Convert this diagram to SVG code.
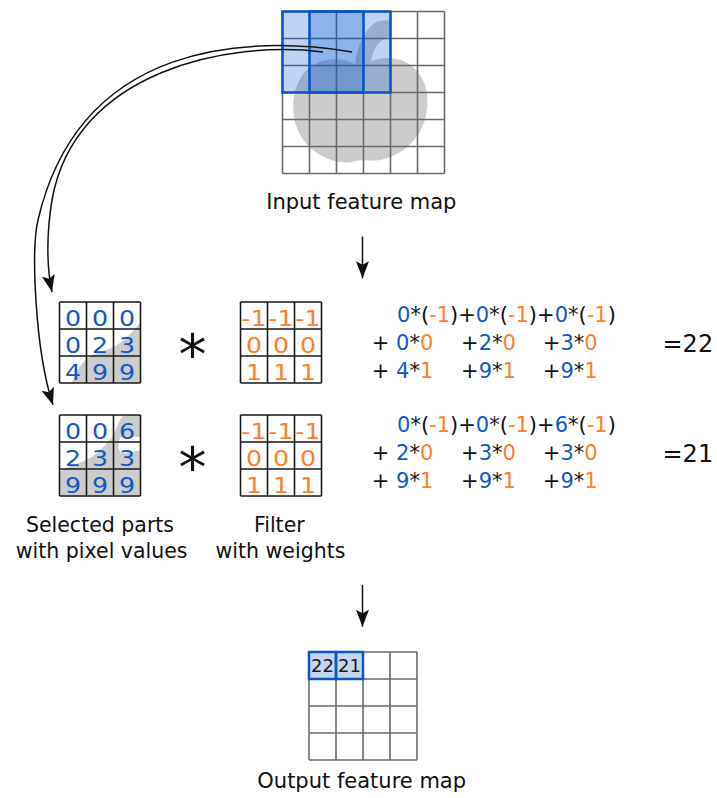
<svg xmlns="http://www.w3.org/2000/svg" xmlns:xlink="http://www.w3.org/1999/xlink" width="717" height="798" viewBox="0 0 717 798">
<style>
text{font-family:"DejaVu Sans","Liberation Sans",sans-serif}
.lbl{font-size:20.5px;fill:#111;text-anchor:middle}
.big{font-size:21px;fill:#111;text-anchor:middle}
.gridG{fill:none;stroke:#6a6a6a;stroke-width:1.6}
.gridK{fill:none;stroke:#1a1a1a;stroke-width:1.6}
.win{fill:#0055d4;fill-opacity:0.25;stroke:#0a55c8;stroke-width:2.5}
.px{font-size:21.5px;fill:#1158c7;text-anchor:middle}
.w{font-size:21.5px;fill:#ff7f2a;text-anchor:middle}
.eq{font-size:21px;fill:#111}
.b{fill:#1158c7}
.o{fill:#ff7f2a}
.res{font-size:24px;fill:#111}
.op{font-size:56px;fill:#111;text-anchor:middle}
.conn{fill:none;stroke:#111;stroke-width:1.5}
.apple{fill:#cccccc}
</style>
<defs>
<marker id="ah" markerUnits="userSpaceOnUse" markerWidth="20" markerHeight="16" viewBox="-18 -8 20 16" refX="0" refY="0" orient="auto">
<path d="M0,0 L-17,-6.5 L-13.5,0 L-17,6.5 Z" fill="#111"/>
</marker>
<path id="apple" d="M355,64 C358,45 365,28 378,21 L391,20 L391,36 C382,38 373,46 371,62 C381,56 400,56 412,66 C424,76 429,92 427,108 C425,135 405,155 380,160 C368,162 362,158 352,162 C330,165 305,150 297,128 C290,110 293,85 305,72 C318,58 338,56 355,64 Z"/>
<path id="smallApple" d="M45,496.5 C49,483 56,473 65,468.5 C75,464 83,462 90,458 C100,452 107,443 113.5,435 C116,428 119,421 124,414 L145,414 L145,437 C133,437 124,436 120,438 C118,444 118,450 121,453 C127,452 136,451 145,450 L145,500 L45,500 Z"/>
<path id="g3" d="M0,0H81M0,27H81M0,54H81M0,81H81M0,0V81M27,0V81M54,0V81M81,0V81"/>
<clipPath id="clipA"><rect x="59.5" y="302" width="81" height="81"/></clipPath>
<clipPath id="clipB"><rect x="59.5" y="415" width="81" height="81"/></clipPath>
</defs>

<g id="input-map">
<use xlink:href="#apple" class="apple"/>
<path class="gridG" d="M282.5,11.5V173.5M309.5,11.5V173.5M336.5,11.5V173.5M363.5,11.5V173.5M390.5,11.5V173.5M417.5,11.5V173.5M444.5,11.5V173.5M282.5,11.5H444.5M282.5,38.5H444.5M282.5,65.5H444.5M282.5,92.5H444.5M282.5,119.5H444.5M282.5,146.5H444.5M282.5,173.5H444.5"/>
<rect class="win" x="282.5" y="11.5" width="81" height="81"/>
<rect class="win" x="309.5" y="11.5" width="81" height="81"/>
<text class="big" x="361.3" y="209">Input feature map</text>
</g>

<g id="selected-1">
<g clip-path="url(#clipA)"><use xlink:href="#smallApple" class="apple" transform="translate(27,-113)"/></g>
<use xlink:href="#g3" class="gridK" x="59.5" y="302"/>
<text class="px" x="73" y="325.5" textLength="16.1" lengthAdjust="spacingAndGlyphs">0</text><text class="px" x="100" y="325.5" textLength="16.1" lengthAdjust="spacingAndGlyphs">0</text><text class="px" x="127" y="325.5" textLength="16.1" lengthAdjust="spacingAndGlyphs">0</text>
<text class="px" x="73" y="352.5" textLength="16.1" lengthAdjust="spacingAndGlyphs">0</text><text class="px" x="100" y="352.5" textLength="16.1" lengthAdjust="spacingAndGlyphs">2</text><text class="px" x="127" y="352.5" textLength="16.1" lengthAdjust="spacingAndGlyphs">3</text>
<text class="px" x="73" y="379.5" textLength="16.1" lengthAdjust="spacingAndGlyphs">4</text><text class="px" x="100" y="379.5" textLength="16.1" lengthAdjust="spacingAndGlyphs">9</text><text class="px" x="127" y="379.5" textLength="16.1" lengthAdjust="spacingAndGlyphs">9</text>
</g>

<g id="selected-2">
<g clip-path="url(#clipB)"><use xlink:href="#smallApple" class="apple"/></g>
<use xlink:href="#g3" class="gridK" x="59.5" y="415"/>
<text class="px" x="73" y="438.5" textLength="16.1" lengthAdjust="spacingAndGlyphs">0</text><text class="px" x="100" y="438.5" textLength="16.1" lengthAdjust="spacingAndGlyphs">0</text><text class="px" x="127" y="438.5" textLength="16.1" lengthAdjust="spacingAndGlyphs">6</text>
<text class="px" x="73" y="465.5" textLength="16.1" lengthAdjust="spacingAndGlyphs">2</text><text class="px" x="100" y="465.5" textLength="16.1" lengthAdjust="spacingAndGlyphs">3</text><text class="px" x="127" y="465.5" textLength="16.1" lengthAdjust="spacingAndGlyphs">3</text>
<text class="px" x="73" y="492.5" textLength="16.1" lengthAdjust="spacingAndGlyphs">9</text><text class="px" x="100" y="492.5" textLength="16.1" lengthAdjust="spacingAndGlyphs">9</text><text class="px" x="127" y="492.5" textLength="16.1" lengthAdjust="spacingAndGlyphs">9</text>
</g>

<g id="op-1"><text class="op" x="192.5" y="374">*</text></g>
<g id="op-2"><text class="op" x="192.5" y="487">*</text></g>

<g id="filter-1">
<use xlink:href="#g3" class="gridK" x="240.5" y="302"/>
<text class="w" x="254" y="325.5" textLength="25.3" lengthAdjust="spacingAndGlyphs">-1</text><text class="w" x="281" y="325.5" textLength="25.3" lengthAdjust="spacingAndGlyphs">-1</text><text class="w" x="308" y="325.5" textLength="25.3" lengthAdjust="spacingAndGlyphs">-1</text>
<text class="w" x="254" y="352.5" textLength="16.1" lengthAdjust="spacingAndGlyphs">0</text><text class="w" x="281" y="352.5" textLength="16.1" lengthAdjust="spacingAndGlyphs">0</text><text class="w" x="308" y="352.5" textLength="16.1" lengthAdjust="spacingAndGlyphs">0</text>
<text class="w" x="254" y="379.5" textLength="16.1" lengthAdjust="spacingAndGlyphs">1</text><text class="w" x="281" y="379.5" textLength="16.1" lengthAdjust="spacingAndGlyphs">1</text><text class="w" x="308" y="379.5" textLength="16.1" lengthAdjust="spacingAndGlyphs">1</text>
</g>

<g id="filter-2">
<use xlink:href="#g3" class="gridK" x="240.5" y="415"/>
<text class="w" x="254" y="438.5" textLength="25.3" lengthAdjust="spacingAndGlyphs">-1</text><text class="w" x="281" y="438.5" textLength="25.3" lengthAdjust="spacingAndGlyphs">-1</text><text class="w" x="308" y="438.5" textLength="25.3" lengthAdjust="spacingAndGlyphs">-1</text>
<text class="w" x="254" y="465.5" textLength="16.1" lengthAdjust="spacingAndGlyphs">0</text><text class="w" x="281" y="465.5" textLength="16.1" lengthAdjust="spacingAndGlyphs">0</text><text class="w" x="308" y="465.5" textLength="16.1" lengthAdjust="spacingAndGlyphs">0</text>
<text class="w" x="254" y="492.5" textLength="16.1" lengthAdjust="spacingAndGlyphs">1</text><text class="w" x="281" y="492.5" textLength="16.1" lengthAdjust="spacingAndGlyphs">1</text><text class="w" x="308" y="492.5" textLength="16.1" lengthAdjust="spacingAndGlyphs">1</text>
</g>

<g id="equation-1">
<text class="eq" x="397" y="321.7"><tspan class="b">0</tspan>*(<tspan class="o">-1</tspan>)+<tspan class="b">0</tspan>*(<tspan class="o">-1</tspan>)+<tspan class="b">0</tspan>*(<tspan class="o">-1</tspan>)</text>
<text class="eq" x="371.8" y="350">+ <tspan class="b">0</tspan>*<tspan class="o">0</tspan></text>
<text class="eq" x="461.1" y="350">+<tspan class="b">2</tspan>*<tspan class="o">0</tspan></text>
<text class="eq" x="542.8" y="350">+<tspan class="b">3</tspan>*<tspan class="o">0</tspan></text>
<text class="eq" x="371.8" y="378.3">+ <tspan class="b">4</tspan>*<tspan class="o">1</tspan></text>
<text class="eq" x="461.1" y="378.3">+<tspan class="b">9</tspan>*<tspan class="o">1</tspan></text>
<text class="eq" x="542.8" y="378.3">+<tspan class="b">9</tspan>*<tspan class="o">1</tspan></text>
<text class="res" x="662.5" y="352.3">=22</text>
</g>

<g id="equation-2">
<text class="eq" x="397" y="431.7"><tspan class="b">0</tspan>*(<tspan class="o">-1</tspan>)+<tspan class="b">0</tspan>*(<tspan class="o">-1</tspan>)+<tspan class="b">6</tspan>*(<tspan class="o">-1</tspan>)</text>
<text class="eq" x="371.8" y="460">+ <tspan class="b">2</tspan>*<tspan class="o">0</tspan></text>
<text class="eq" x="461.1" y="460">+<tspan class="b">3</tspan>*<tspan class="o">0</tspan></text>
<text class="eq" x="542.8" y="460">+<tspan class="b">3</tspan>*<tspan class="o">0</tspan></text>
<text class="eq" x="371.8" y="488.3">+ <tspan class="b">9</tspan>*<tspan class="o">1</tspan></text>
<text class="eq" x="461.1" y="488.3">+<tspan class="b">9</tspan>*<tspan class="o">1</tspan></text>
<text class="eq" x="542.8" y="488.3">+<tspan class="b">9</tspan>*<tspan class="o">1</tspan></text>
<text class="res" x="662.5" y="462.3">=21</text>
</g>

<g id="label-selected">
<text class="lbl" x="100" y="532">Selected parts</text>
<text class="lbl" x="101.7" y="558">with pixel values</text>
</g>
<g id="label-filter">
<text class="lbl" x="279.3" y="532">Filter</text>
<text class="lbl" x="280.5" y="558">with weights</text>
</g>

<g id="output-map">
<rect x="309" y="652" width="27" height="27" fill="#c6d6ee"/>
<rect x="336" y="652" width="27" height="27" fill="#c6d6ee"/>
<path class="gridG" d="M309,652V760M336,652V760M363,652V760M390,652V760M417,652V760M309,652H417M309,679H417M309,706H417M309,733H417M309,760H417"/>
<rect x="309" y="652" width="27" height="27" fill="none" stroke="#0a55c8" stroke-width="2.5"/>
<rect x="336" y="652" width="27" height="27" fill="none" stroke="#0a55c8" stroke-width="2.5"/>
<text x="322.5" y="671.7" font-size="18" fill="#1a1a1a" text-anchor="middle">22</text>
<text x="349.5" y="671.7" font-size="18" fill="#1a1a1a" text-anchor="middle">21</text>
<text class="big" x="361.7" y="788">Output feature map</text>
</g>

<g id="connectors">
<path class="conn" d="M323,52 C230,40 75,70 52,200 C47,230 46,265 52,292" marker-end="url(#ah)"/>
<path class="conn" d="M352,52 C250,35 80,40 38,220 C31,250 35,350 53,405" marker-end="url(#ah)"/>
<path class="conn" d="M362.5,236.5 V278.3" marker-end="url(#ah)"/>
<path class="conn" d="M362.5,585 V626.7" marker-end="url(#ah)"/>
</g>
</svg>
